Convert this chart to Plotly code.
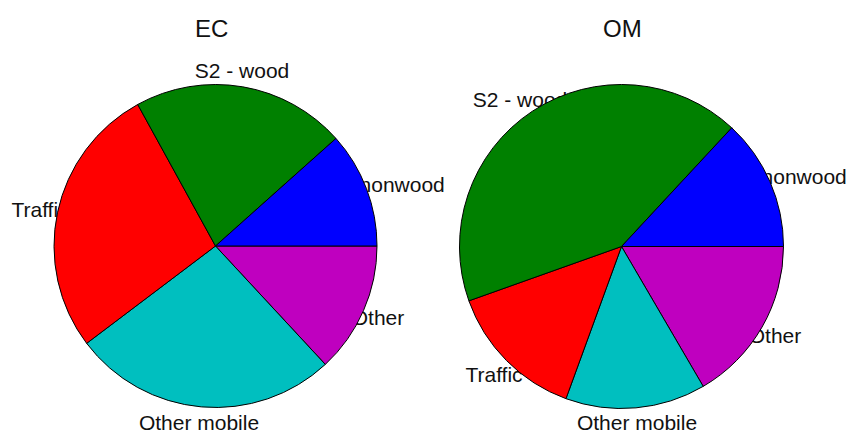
import plotly.graph_objects as go

# ---- data ----
categories = ["S2 - nonwood", "S2 - wood", "Traffic", "Other mobile", "Other"]
ec_values = [11.6, 21.4, 27.3, 26.6, 13.1]
om_values = [13.1, 42.4, 14.0, 14.0, 16.6]
titles = ["EC", "OM"]

# ---- styles / layout ----
colors = ["#0000FF", "#008000", "#FF0000", "#00BFBF", "#BF00BF"]
W, H = 848, 435
FONT = "Liberation Sans, Arial, Helvetica, sans-serif"

# label positions in pixel space (x, y from top)
ec_label_pos = [(380, 187), (242, 73), (40, 212), (199, 425), (378, 320)]
om_label_pos = [(782, 179), (520, 102), (494, 377), (637, 425), (775, 338)]

# pie geometry in pixels: (cx, cy, r)
ec_geom = (215.5, 246, 161.5)
om_geom = (621.5, 246.5, 162)


def domain(cx, cy, r):
    return dict(x=[(cx - r) / W, (cx + r) / W],
                y=[(H - cy - r) / H, (H - cy + r) / H])


fig = go.Figure()

# labels drawn first (underneath the pies, as in the reference)
for pos in (ec_label_pos, om_label_pos):
    fig.add_trace(go.Scatter(
        x=[p[0] for p in pos], y=[p[1] for p in pos],
        text=categories, mode="text", textposition="middle center",
        textfont=dict(family=FONT, size=21, color="#111111"),
        hoverinfo="skip", showlegend=False))

# slices start at 3 o'clock and run counter-clockwise (matplotlib style):
# feed them reversed and draw clockwise from 3 o'clock
for vals, geom in ((ec_values, ec_geom), (om_values, om_geom)):
    fig.add_trace(go.Pie(
        labels=categories[::-1], values=vals[::-1], sort=False,
        direction="clockwise", rotation=90,
        marker=dict(colors=colors[::-1], line=dict(color="#000000", width=1)),
        textinfo="none", hoverinfo="label+percent",
        domain=domain(*geom), showlegend=False))

fig.update_layout(
    width=W, height=H,
    margin=dict(l=0, r=0, t=0, b=0),
    paper_bgcolor="white", plot_bgcolor="white",
    xaxis=dict(range=[0, W], visible=False, fixedrange=True),
    yaxis=dict(range=[H, 0], visible=False, fixedrange=True),
    annotations=[
        dict(text=titles[0], x=211 / W, y=1 - 29 / H, xref="paper", yref="paper",
             showarrow=False, xanchor="center", yanchor="middle",
             font=dict(family=FONT, size=24, color="#111111")),
        dict(text=titles[1], x=622 / W, y=1 - 29 / H, xref="paper", yref="paper",
             showarrow=False, xanchor="center", yanchor="middle",
             font=dict(family=FONT, size=24, color="#111111")),
    ],
)

fig.write_html("out.html",
               config={"displayModeBar": False},
               post_script="document.body.style.margin='0';document.body.style.overflow='hidden';")
